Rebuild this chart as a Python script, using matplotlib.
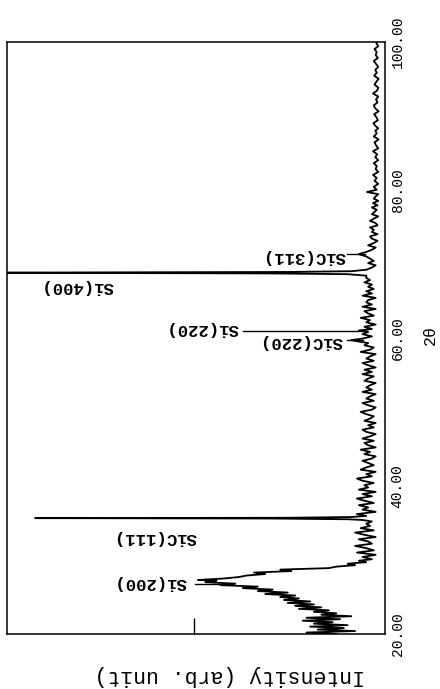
import numpy as np
import matplotlib
matplotlib.use("Agg")
import matplotlib.pyplot as plt

# XRD pattern, drawn rotated: 2theta runs upward, intensity runs to the left
two_theta = [
    20.0, 20.2, 20.4, 20.6, 20.8, 21.0, 21.2, 21.4, 21.6, 21.8,
    22.0, 22.2, 22.4, 22.6, 22.8, 23.0, 23.2, 23.4, 23.6, 23.8,
    24.0, 24.2, 24.4, 24.6, 24.8, 25.0, 25.2, 25.4, 25.6, 25.8,
    26.0, 26.2, 26.4, 26.6, 26.8, 27.0, 27.2, 27.3, 27.5, 27.7,
    27.9, 28.1, 28.3, 28.5, 28.7, 28.9, 29.1, 29.3, 29.5, 29.7,
    29.9, 30.1, 30.4, 30.7, 31.0, 31.3, 31.6, 31.9, 32.2, 32.5,
    32.8, 33.1, 33.4, 33.7, 34.0, 34.3, 34.6, 34.9, 35.2, 35.4,
    35.5, 35.6, 35.65, 35.7, 35.8, 35.95, 36.2, 36.5, 36.8, 37.1,
    37.4, 37.7, 38.0, 38.3, 38.6, 38.9, 39.2, 39.5, 39.8, 40.1,
    40.4, 40.7, 41.0, 41.3, 41.6, 41.9, 42.2, 42.5, 42.8, 43.1,
    43.4, 43.7, 44.0, 44.3, 44.6, 44.9, 45.2, 45.5, 45.8, 46.1,
    46.4, 46.7, 47.0, 47.3, 47.6, 47.9, 48.2, 48.5, 48.8, 49.1,
    49.4, 49.7, 50.0, 50.3, 50.6, 50.9, 51.2, 51.5, 51.8, 52.1,
    52.4, 52.7, 53.0, 53.3, 53.6, 53.9, 54.2, 54.5, 54.8, 55.1,
    55.4, 55.7, 56.0, 56.3, 56.6, 56.9, 57.2, 57.5, 57.8, 58.1,
    58.4, 58.7, 59.0, 59.3, 59.5, 59.7, 59.9, 60.2, 60.5, 60.8,
    61.0, 61.2, 61.5, 61.8, 62.1, 62.4, 62.7, 63.0, 63.3, 63.6,
    63.9, 64.2, 64.5, 64.8, 65.1, 65.4, 65.7, 66.0, 66.3, 66.6,
    66.9, 67.2, 67.5, 67.8, 68.1, 68.4, 68.6, 68.7, 68.8, 68.9,
    69.0, 69.2, 69.5, 69.8, 70.1, 70.4, 70.7, 71.0, 71.3, 71.6,
    71.9, 72.2, 72.5, 72.8, 73.1, 73.4, 73.7, 74.0, 74.3, 74.6,
    74.9, 75.2, 75.5, 75.8, 76.1, 76.4, 76.7, 77.0, 77.3, 77.6,
    77.9, 78.2, 78.5, 78.8, 79.1, 79.4, 79.7, 80.0, 80.4, 80.8,
    81.2, 81.6, 82.0, 82.4, 82.8, 83.2, 83.6, 84.0, 84.4, 84.8,
    85.2, 85.6, 86.0, 86.4, 86.8, 87.2, 87.6, 88.0, 88.3, 88.6,
    89.0, 89.4, 89.8, 90.2, 90.6, 91.0, 91.4, 91.8, 92.2, 92.6,
    93.0, 93.4, 93.8, 94.2, 94.6, 95.0, 95.4, 95.8, 96.2, 96.6,
    97.0, 97.4, 97.8, 98.2, 98.6, 99.0, 99.4, 99.8, 100.0,
]
intensity = [
    12, 20, 7, 17, 10, 19, 9, 18, 13, 21,
    11, 20, 8, 16, 12, 18, 14, 22, 16, 23,
    18, 25, 19, 26, 22, 27, 23, 31, 25, 33,
    29, 37, 33, 43, 39, 47, 44, 49, 42, 38,
    36, 31, 34, 24, 27, 14, 12, 7, 9, 4,
    6, 2.5, 5, 1.5, 6.5, 2, 4, 7, 2.5, 3.5,
    6, 1.5, 4.5, 7, 2, 5.5, 3, 4, 2.5, 5,
    9, 30, 92.5, 25, 8, 4, 6.5, 1.5, 5, 3.5,
    6, 2, 4.5, 6.5, 2.5, 5, 1.5, 6, 3.5, 4.5,
    2, 5, 6.5, 2.5, 4, 1.5, 5.5, 4, 2, 3.5,
    5, 2.5, 1.5, 4.5, 3, 5.5, 1.5, 3.5, 4.5, 2,
    5, 3, 1.5, 4, 5, 2, 3.5, 1.5, 4.5, 3,
    2, 4, 5.5, 2.5, 1.5, 3.5, 5, 2, 4, 3,
    1.5, 5, 2.5, 4, 3, 1.5, 4.5, 3.5, 2, 5,
    2.5, 4.5, 1.5, 3.5, 5, 2, 4, 3, 1.5, 5.5,
    3, 2, 4.5, 3.5, 6, 8, 5, 2.5, 5, 3.5,
    6, 2.5, 4.5, 1.5, 4, 3, 5.5, 2, 3.5, 4.5,
    1.5, 5, 2.5, 4, 3.5, 1.5, 5, 2.5, 4, 2,
    3.5, 2.5, 4.5, 3, 4, 4, 9, 30, 110, 25,
    8, 4, 2.5, 1.5, 3.5, 2, 3, 4, 6, 4,
    2.5, 1.5, 3.5, 2, 1, 2.5, 3, 1, 2.5, 2,
    3, 1, 1.5, 3, 2, 0.8, 2.5, 1.8, 1.2, 2.5,
    1, 2.2, 0.8, 2, 1.5, 0.8, 3.8, 1.2, 2, 0.8,
    1.8, 1.2, 2.2, 0.8, 1.5, 1.2, 2, 0.8, 1.6, 1.1,
    2.2, 0.8, 1.4, 1.8, 0.7, 2, 1.2, 1.6, 0.8, 1.5,
    2.1, 0.9, 1.3, 1.9, 0.7, 1.6, 2, 1, 1.4, 0.8,
    2.2, 1.1, 0.8, 1.8, 1.3, 0.7, 1.9, 1.2, 1.6, 0.8,
    1.4, 2, 0.9, 1.5, 1.2, 1.8, 0.8, 1.3, 1.1,
]

# peak labels: text, text position (intensity, 2theta), pointer line or None
peak_names = ["Si(200)", "SiC(111)", "Si(400)", "Si(220)", "SiC(220)", "SiC(311)"]
label_pos = [(61.8, 26.9), (60.5, 33.1), (81.2, 67.0), (47.9, 61.2), (21.5, 59.45), (20.6, 71.05)]
pointers = [(49.8, 40.0, 26.75), None, None, (37.0, 3.8, 60.96), (9.1, 4.9, 59.7), (9.1, 4.4, 71.3)]

mono = "Liberation Mono"

fig = plt.figure(figsize=(4.4, 6.89), dpi=100)
ax = fig.add_axes([0.016, 0.0798, 0.859, 0.8597])

ax.plot(intensity, two_theta, color="black", lw=1.3)

ax.set_xlim(100, -1)
ax.set_ylim(20, 100)

# 2theta ticks on the right, no tick marks
ax.yaxis.tick_right()
ax.set_yticks([20, 40, 60, 80, 100])
ax.set_yticklabels(["%.2f" % v for v in [20, 40, 60, 80, 100]],
                   rotation=90, va="center", fontsize=10.5, family=mono)
ax.tick_params(axis="y", length=0, pad=4)

# single intensity tick on the bottom edge
ax.set_xticks([50])
ax.set_xticklabels([])
ax.tick_params(axis="x", direction="in", length=11.5, width=1.0)

for s in ax.spines.values():
    s.set_linewidth(1.1)

for name, (xi, yi), p in zip(peak_names, label_pos, pointers):
    ax.text(xi, yi, name, rotation=180, ha="center", va="center",
            fontsize=12.5, family=mono, fontweight="bold")
    if p is not None:
        ax.plot([p[0], p[1]], [p[2], p[2]], color="black", lw=1.0)

fig.text(0.977, 0.514, "2θ", rotation=90, ha="center", va="center",
         fontsize=12, family=mono)
fig.text(0.523, 0.020, "Intensity (arb. unit)", rotation=180, ha="center", va="center",
         fontsize=15.5, family=mono)

fig.savefig("out.png", dpi=100)
